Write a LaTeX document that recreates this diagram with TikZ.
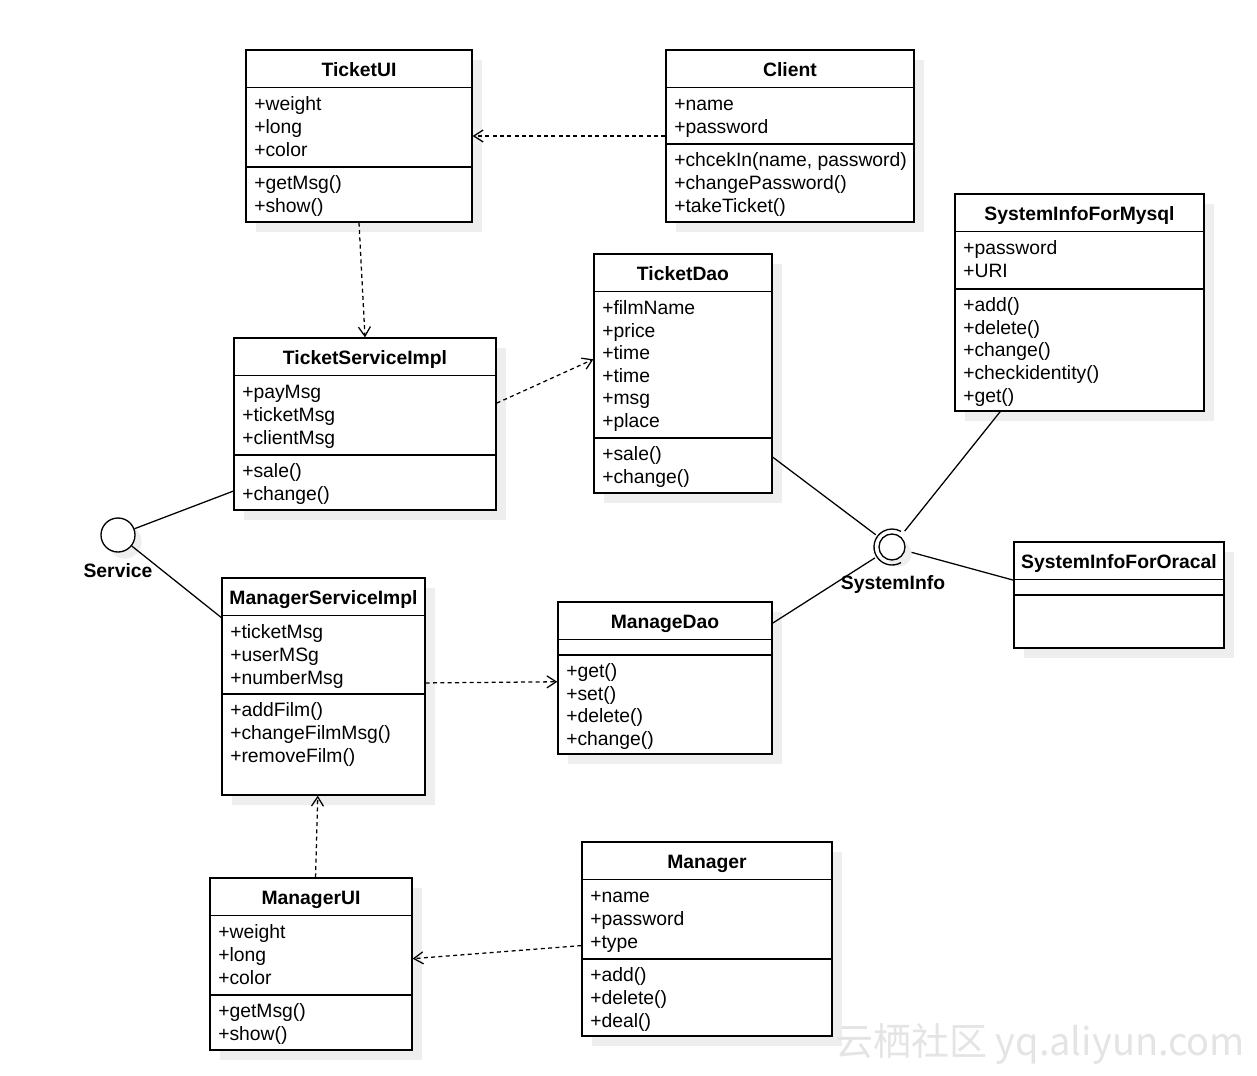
\documentclass[tikz,border=0pt]{standalone}
\usepackage{fontspec}
\setmainfont{Liberation Sans}
\newfontfamily\cjkfont{Noto Sans CJK SC}
\usepackage{tikz}
\usetikzlibrary{arrows.meta,positioning,fit,calc,shadows}
\definecolor{shadowgray}{RGB}{238,238,238}
\definecolor{markgray}{RGB}{228,228,228}

\tikzset{
  classbox/.style={rectangle, draw=black, line width=1pt, fill=white, inner sep=0pt, drop shadow={shadow xshift=7.5pt, shadow yshift=-7.5pt, opacity=1, fill=shadowgray, draw=none}},
  divider/.style={line width=1pt},
  classname/.style={anchor=base, font=\fontsize{14.5}{16.9}\selectfont\bfseries, inner sep=0pt},
  % members sit on the baseline of their last line
  members/.style={anchor=base west, align=left, font=\fontsize{14.5}{16.9}\selectfont, inner sep=0pt},
  iface/.style={circle, draw=black, line width=1pt, fill=white, inner sep=0pt, drop shadow={shadow xshift=5pt, shadow yshift=-5pt, opacity=1, fill=shadowgray, draw=none}},
  ifacename/.style={anchor=base, font=\fontsize{14.5}{16.9}\selectfont\bfseries, inner sep=0pt},
  dep/.style={line width=0.95pt, dash pattern=on 3pt off 2.5pt, -{Straight Barb[length=7pt,width=9pt]}},
  link/.style={line width=0.95pt},
}

\begin{document}
\begin{tikzpicture}[x=0.75pt, y=-0.75pt]
\useasboundingbox (0,0) rectangle (1257,1075);
% TicketUI
\node[classbox, fit={(246,50) (472,222)}] (ticketui) {};
\draw[divider] ([yshift=-28.5pt]ticketui.north west) -- ([yshift=-28.5pt]ticketui.north east);
\draw[divider] (ticketui.west |- 0,167) -- (ticketui.east |- 0,167);
\node[classname] (ticketui-name) at (359,76) {TicketUI};
\node[members] (ticketui-attr) at (254,156) {+weight\\+long\\+color};
\node[members] (ticketui-ops) at (254,212.5) {+getMsg()\\+show()};
% Client
\node[classbox, fit={(666,50) (914,222)}] (client) {};
\draw[divider] ([yshift=-28.5pt]client.north west) -- ([yshift=-28.5pt]client.north east);
\draw[divider] (client.west |- 0,144) -- (client.east |- 0,144);
\node[classname] (client-name) at (790,76) {Client};
\node[members] (client-attr) at (674,133.5) {+name\\+password};
\node[members] (client-ops) at (674,212) {+chcekIn(name, password)\\+changePassword()\\+takeTicket()};
% SystemInfoForMysql
\node[classbox, fit={(955,194) (1204,411)}] (mysql) {};
\draw[divider] ([yshift=-28.5pt]mysql.north west) -- ([yshift=-28.5pt]mysql.north east);
\draw[divider] (mysql.west |- 0,289) -- (mysql.east |- 0,289);
\node[classname] (mysql-name) at (1079.5,220) {SystemInfoForMysql};
\node[members] (mysql-attr) at (963,277.5) {+password\\+URI};
\node[members] (mysql-ops) at (963,402) {+add()\\+delete()\\+change()\\+checkidentity()\\+get()};
% TicketDao
\node[classbox, fit={(594,254) (772,493)}] (ticketdao) {};
\draw[divider] ([yshift=-28.5pt]ticketdao.north west) -- ([yshift=-28.5pt]ticketdao.north east);
\draw[divider] (ticketdao.west |- 0,438) -- (ticketdao.east |- 0,438);
\node[classname] (ticketdao-name) at (683,280) {TicketDao};
\node[members] (ticketdao-attr) at (602,427.5) {+filmName\\+price\\+time\\+time\\+msg\\+place};
\node[members] (ticketdao-ops) at (602,483.5) {+sale()\\+change()};
% TicketServiceImpl
\node[classbox, fit={(234,338) (496,510)}] (ticketsvc) {};
\draw[divider] ([yshift=-28.5pt]ticketsvc.north west) -- ([yshift=-28.5pt]ticketsvc.north east);
\draw[divider] (ticketsvc.west |- 0,455) -- (ticketsvc.east |- 0,455);
\node[classname] (ticketsvc-name) at (365,364) {TicketServiceImpl};
\node[members] (ticketsvc-attr) at (242,444) {+payMsg\\+ticketMsg\\+clientMsg};
\node[members] (ticketsvc-ops) at (242,500.5) {+sale()\\+change()};
% ManagerServiceImpl
\node[classbox, fit={(222,578) (425,795)}] (managersvc) {};
\draw[divider] ([yshift=-28.5pt]managersvc.north west) -- ([yshift=-28.5pt]managersvc.north east);
\draw[divider] (managersvc.west |- 0,694) -- (managersvc.east |- 0,694);
\node[classname] (managersvc-name) at (323.5,604) {ManagerServiceImpl};
\node[members] (managersvc-attr) at (230,684) {+ticketMsg\\+userMSg\\+numberMsg};
\node[members] (managersvc-ops) at (230,762) {+addFilm()\\+changeFilmMsg()\\+removeFilm()};
% ManageDao
\node[classbox, fit={(558,602) (772,754)}] (managedao) {};
\draw[divider] ([yshift=-28.5pt]managedao.north west) -- ([yshift=-28.5pt]managedao.north east);
\draw[divider] (managedao.west |- 0,655) -- (managedao.east |- 0,655);
\node[classname] (managedao-name) at (665,628) {ManageDao};
\node[members] (managedao-ops) at (566,745.5) {+get()\\+set()\\+delete()\\+change()};
% SystemInfoForOracal
\node[classbox, fit={(1014,542) (1224,648)}] (oracal) {};
\draw[divider] ([yshift=-28.5pt]oracal.north west) -- ([yshift=-28.5pt]oracal.north east);
\draw[divider] (oracal.west |- 0,595) -- (oracal.east |- 0,595);
\node[classname] (oracal-name) at (1119,568) {SystemInfoForOracal};
% Manager
\node[classbox, fit={(582,842) (832,1036)}] (manager) {};
\draw[divider] ([yshift=-28.5pt]manager.north west) -- ([yshift=-28.5pt]manager.north east);
\draw[divider] (manager.west |- 0,959) -- (manager.east |- 0,959);
\node[classname] (manager-name) at (707,868) {Manager};
\node[members] (manager-attr) at (590,948) {+name\\+password\\+type};
\node[members] (manager-ops) at (590,1027) {+add()\\+delete()\\+deal()};
% ManagerUI
\node[classbox, fit={(210,878) (412,1050)}] (managerui) {};
\draw[divider] ([yshift=-28.5pt]managerui.north west) -- ([yshift=-28.5pt]managerui.north east);
\draw[divider] (managerui.west |- 0,995) -- (managerui.east |- 0,995);
\node[classname] (managerui-name) at (311,904) {ManagerUI};
\node[members] (managerui-attr) at (218,984) {+weight\\+long\\+color};
\node[members] (managerui-ops) at (218,1040.5) {+getMsg()\\+show()};
% Interfaces
\node[iface, minimum size=25.5pt] (service) at (118,535) {};
\node[ifacename] (service-name) at (118,577) {Service};
\node[iface, minimum size=19.5pt] (sysinfo) at (892,547) {};
\draw[divider] (sysinfo.center) ++(60:18) arc[start angle=60, end angle=300, radius=18];
\node[circle, minimum size=30pt, inner sep=0pt] (sysinfo-socket) at (sysinfo) {};
\node[ifacename] (sysinfo-name) at (893,589) {SystemInfo};
% Dependencies
\draw[dep] (client.west) -- (ticketui.east);
\draw[dep] (ticketui.south) -- (ticketsvc.north);
\draw[dep] (ticketsvc.9.5) -- (ticketdao.171);
\draw[dep] (managersvc.2.5) -- (managedao.182);
\draw[dep] (managerui.87) -- (managersvc.267);
\draw[dep] (manager.183) -- (managerui.3);
% Realizations / uses
\draw[link] (service) -- (ticketsvc.207);
\draw[link] (service) -- (managersvc.146);
\draw[link] (ticketdao.-43.5) -- (sysinfo-socket);
\draw[link] (mysql.234) -- (sysinfo-socket);
\draw[link] (managedao.27) -- (sysinfo-socket);
\draw[link] (sysinfo-socket) -- (oracal.172);
% Watermark
\node[anchor=base west, text=markgray, font=\cjkfont\fontsize{28.5}{30}\selectfont, inner sep=0pt] (watermark) at (835,1055) {云栖社区 yq.aliyun.com};
\end{tikzpicture}
\end{document}
